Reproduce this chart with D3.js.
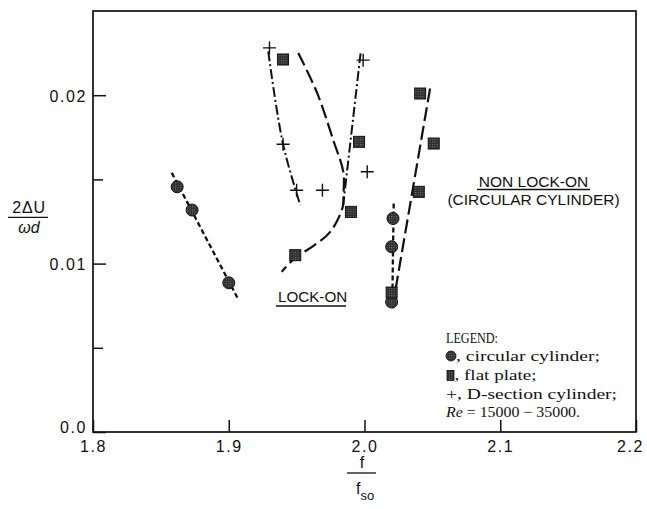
<!DOCTYPE html>
<html>
<head>
<meta charset="utf-8">
<script src="https://cdn.jsdelivr.net/npm/d3@7"></script>
<style>
  body { margin: 0; background: #fff; }
  svg { display: block; }
  text { fill: #111; }
</style>
</head>
<body>
<svg id="chart" width="647" height="509"></svg>
<script>
// Measured points: frequency ratio f/f_so against amplitude 2ΔU/ωd
const circleX  = [1.862, 1.873, 1.900, 2.021, 2.020, 2.020];
const circleY  = [0.01456, 0.01318, 0.00886, 0.01268, 0.01100, 0.00772];
const plateX   = [1.940, 1.949, 1.996, 1.990, 2.041, 2.051, 2.040, 2.020];
const plateY   = [0.02212, 0.01050, 0.01723, 0.01307, 0.02010, 0.01713, 0.01426, 0.00828];
const dSectionX = [1.930, 1.940, 1.950, 1.969, 1.999, 2.002];
const dSectionY = [0.02281, 0.01709, 0.01436, 0.01436, 0.02208, 0.01545];

// Hand-drawn boundary curves of the lock-on regions
const circleFitLow  = [[1.8580, 0.01539], [1.9073, 0.00783]];
const circleFitHigh = [[2.0215, 0.01357], [2.0205, 0.00780]];
const plateFitLow   = [[1.9512, 0.02251], [1.9650, 0.02015], [1.9770, 0.01733], [1.9844, 0.01543],
                       [1.9845, 0.01407], [1.9839, 0.01335], [1.9746, 0.01187], [1.9599, 0.01092],
                       [1.9495, 0.01039], [1.9390, 0.00951]];
const plateFitHigh  = [[2.0483, 0.02040], [2.0200, 0.00712]];
const dSectionFitLow  = [[1.9291, 0.02260], [1.9400, 0.01709], [1.9527, 0.01347]];
const dSectionFitHigh = [[1.9971, 0.02249], [1.9843, 0.01347]];

// Axis ticks
const xTicks = [1.8, 1.9, 2.0, 2.1, 2.2];
const xTickLabels = ["1.8", "1.9", "2.0", "2.1", "2.2"];
const yTicks = [0.0, 0.01, 0.02];
const yTickLabels = ["0.0", "0.01", "0.02"];
const yMinorTicks = [0.005, 0.015];

const svg = d3.select("#chart");
const plotLeft = 93, plotRight = 636, plotTop = 11, plotBottom = 432;

const x = d3.scaleLinear().domain([1.8, 2.2]).range([plotLeft, plotRight]);
const y = d3.scaleLinear().domain([0, 0.025]).range([plotBottom, plotTop]);

// Halftone-like texture for the solid markers
const defs = svg.append("defs");
const pat = defs.append("pattern").attr("id", "tone").attr("patternUnits", "userSpaceOnUse")
  .attr("width", 2.4).attr("height", 2.4);
pat.append("rect").attr("width", 2.4).attr("height", 2.4).attr("fill", "#2e2e2e");
pat.append("rect").attr("width", 1).attr("height", 1).attr("fill", "#7a7a7a");

const sans = "'Liberation Sans', Arial, Helvetica, sans-serif";
const serif = "'Liberation Serif', 'Times New Roman', serif";

// Y axis (ticks point into the plot)
const yAxis = d3.axisLeft(y).tickValues(yTicks).tickSize(-13).tickPadding(6)
  .tickFormat((d, i) => yTickLabels[i]);
const gy = svg.append("g").attr("transform", `translate(${plotLeft},0)`).call(yAxis);
gy.select(".domain").remove();
gy.selectAll(".tick line").attr("stroke", "#111").attr("stroke-width", 1.5);
gy.selectAll(".tick text").attr("font-family", sans).attr("font-size", 16)
  .attr("letter-spacing", 1.6).attr("fill", "#111")
  .attr("dy", d => d === 0 ? "0.05em" : "0.38em");

const yMinor = d3.axisLeft(y).tickValues(yMinorTicks).tickSize(-10).tickFormat("");
const gym = svg.append("g").attr("transform", `translate(${plotLeft},0)`).call(yMinor);
gym.select(".domain").remove();
gym.selectAll(".tick line").attr("stroke", "#111").attr("stroke-width", 1.5);

// X axis
const xAxis = d3.axisBottom(x).tickValues(xTicks).tickSize(-12).tickPadding(9)
  .tickFormat((d, i) => xTickLabels[i]);
const gx = svg.append("g").attr("transform", `translate(0,${plotBottom})`).call(xAxis);
gx.select(".domain").remove();
gx.selectAll(".tick line").attr("stroke", "#111").attr("stroke-width", 1.5);
gx.selectAll(".tick text").attr("font-family", sans).attr("font-size", 16)
  .attr("letter-spacing", 1.6).attr("fill", "#111")
  .attr("dx", d => d === 2.2 ? -6 : 0);

// Plot frame
svg.append("rect").attr("x", plotLeft).attr("y", plotTop)
  .attr("width", plotRight - plotLeft).attr("height", plotBottom - plotTop)
  .attr("fill", "none").attr("stroke", "#111").attr("stroke-width", 1.7);

// Boundary curves
const line = d3.line().x(d => x(d[0])).y(d => y(d[1])).curve(d3.curveCatmullRom.alpha(0.5));
const curves = [
  { pts: circleFitLow,  dash: "5,3",          w: 2.3 },
  { pts: circleFitHigh, dash: "5,3",          w: 2.3 },
  { pts: plateFitLow,   dash: "14,5",         w: 2.2 },
  { pts: plateFitHigh,  dash: "14,5",         w: 2.2 },
  { pts: dSectionFitLow,  dash: "10,3,2,3",   w: 2.0 },
  { pts: dSectionFitHigh, dash: "10,3,2,3",   w: 2.0 }
];
svg.append("g").selectAll("path").data(curves).join("path")
  .attr("d", c => line(c.pts))
  .attr("fill", "none").attr("stroke", "#111")
  .attr("stroke-width", c => c.w).attr("stroke-dasharray", c => c.dash);

// Markers
const circles = circleX.map((v, i) => [v, circleY[i]]);
const plates = plateX.map((v, i) => [v, plateY[i]]);
const crosses = dSectionX.map((v, i) => [v, dSectionY[i]]);

svg.append("g").selectAll("circle").data(circles).join("circle")
  .attr("cx", d => x(d[0])).attr("cy", d => y(d[1])).attr("r", 6)
  .attr("fill", "url(#tone)").attr("stroke", "#111").attr("stroke-width", 1);

svg.append("g").selectAll("rect").data(plates).join("rect")
  .attr("x", d => x(d[0]) - 5.5).attr("y", d => y(d[1]) - 5.5)
  .attr("width", 11).attr("height", 11)
  .attr("fill", "url(#tone)").attr("stroke", "#111").attr("stroke-width", 1);

svg.append("g").selectAll("path").data(crosses).join("path")
  .attr("transform", d => `translate(${x(d[0])},${y(d[1])})`)
  .attr("d", "M-6.5,0H6.5M0,-6.5V6.5")
  .attr("fill", "none").attr("stroke", "#111").attr("stroke-width", 1.4);

// Region annotations
svg.append("text").attr("x", 278).attr("y", 301.5)
  .attr("font-family", sans).attr("font-size", 15.2).text("LOCK-ON");
svg.append("line").attr("x1", 276).attr("x2", 346).attr("y1", 306).attr("y2", 306)
  .attr("stroke", "#111").attr("stroke-width", 1.3);

svg.append("text").attr("x", 533.5).attr("y", 186.5).attr("text-anchor", "middle")
  .attr("font-family", sans).attr("font-size", 15.5).text("NON LOCK-ON");
svg.append("line").attr("x1", 477).attr("x2", 590).attr("y1", 189.5).attr("y2", 189.5)
  .attr("stroke", "#111").attr("stroke-width", 1.3);
svg.append("text").attr("x", 533.5).attr("y", 205).attr("text-anchor", "middle")
  .attr("font-family", sans).attr("font-size", 15.5).text("(CIRCULAR CYLINDER)");

// Legend
const lg = svg.append("g").attr("font-family", serif).attr("font-size", 15);
lg.append("text").attr("x", 446).attr("y", 343).attr("font-size", 14)
  .attr("textLength", 52).attr("lengthAdjust", "spacingAndGlyphs").text("LEGEND:");
lg.append("circle").attr("cx", 451).attr("cy", 356).attr("r", 5)
  .attr("fill", "url(#tone)").attr("stroke", "#111").attr("stroke-width", 0.8);
lg.append("text").attr("x", 456).attr("y", 361)
  .attr("textLength", 144).attr("lengthAdjust", "spacingAndGlyphs").text(", circular cylinder;");
lg.append("rect").attr("x", 447).attr("y", 370.5).attr("width", 7).attr("height", 10)
  .attr("fill", "url(#tone)").attr("stroke", "#111").attr("stroke-width", 0.8);
lg.append("text").attr("x", 454.5).attr("y", 380)
  .attr("textLength", 82).attr("lengthAdjust", "spacingAndGlyphs").text(", flat plate;");
lg.append("text").attr("x", 446).attr("y", 399)
  .attr("textLength", 171).attr("lengthAdjust", "spacingAndGlyphs").text("+, D-section cylinder;");
const re = lg.append("text").attr("x", 446).attr("y", 417)
  .attr("textLength", 134).attr("lengthAdjust", "spacingAndGlyphs");
re.append("tspan").attr("font-style", "italic").text("Re");
re.append("tspan").text(" = 15000 \u2212 35000.");

// Axis titles as stacked fractions
const yt = svg.append("g").attr("font-family", sans).attr("font-size", 16);
yt.append("text").attr("x", 29).attr("y", 213).attr("text-anchor", "middle")
  .attr("letter-spacing", 0.8).text("2\u0394U");
yt.append("line").attr("x1", 8).attr("x2", 48).attr("y1", 217.3).attr("y2", 217.3)
  .attr("stroke", "#111").attr("stroke-width", 1.3);
yt.append("text").attr("x", 29).attr("y", 233).attr("text-anchor", "middle")
  .attr("font-style", "italic").text("\u03c9d");

const xt = svg.append("g").attr("font-family", sans).attr("font-size", 16);
xt.append("text").attr("x", 362).attr("y", 468).attr("text-anchor", "middle").text("f");
xt.append("line").attr("x1", 347).attr("x2", 376).attr("y1", 473).attr("y2", 473)
  .attr("stroke", "#111").attr("stroke-width", 1.3);
const fso = xt.append("text").attr("x", 356).attr("y", 494);
fso.append("tspan").text("f");
fso.append("tspan").attr("font-size", 13).attr("dy", 6).text("so");
</script>
</body>
</html>
